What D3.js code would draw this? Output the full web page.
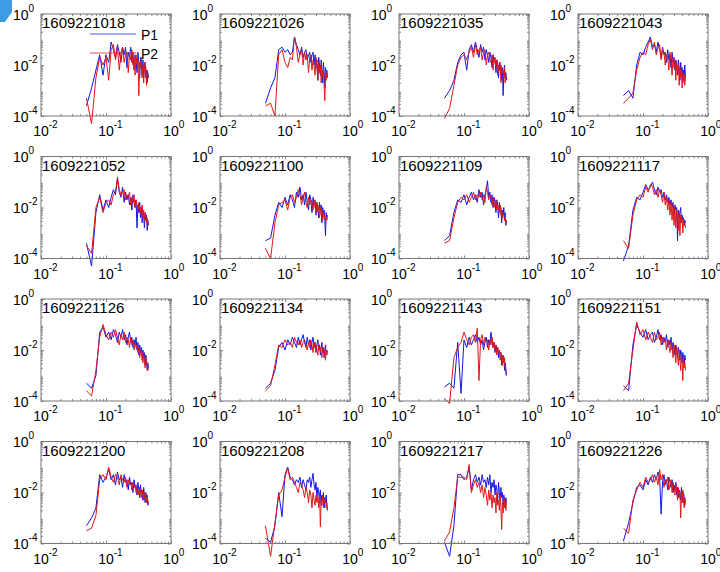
<!DOCTYPE html>
<html>
<head>
<meta charset="utf-8">
<script src="https://cdn.jsdelivr.net/npm/d3@7"></script>
<style>
  body { margin: 0; background: #fff; }
  svg { display: block; }
  text { font-family: "Liberation Sans", Arial, sans-serif; fill: #000; }
</style>
</head>
<body>
<svg id="fig" width="720" height="572"></svg>
<script>
// Frequency grid shared by every record
const freq = [0.05,0.06,0.07,0.08,0.09,0.10,0.11,0.12,0.13,0.14,0.15,0.16,0.17,0.18,0.19,0.20,
  0.21,0.22,0.23,0.24,0.25,0.26,0.27,0.28,0.29,0.30,0.31,0.32,0.33,0.34,0.35,0.36,0.37,0.38,
  0.39,0.40,0.41,0.42,0.43,0.44,0.45];

// Record names, one per subplot (row-major)
const recordNames = ["1609221018","1609221026","1609221035","1609221043",
  "1609221052","1609221100","1609221109","1609221117",
  "1609221126","1609221134","1609221143","1609221151",
  "1609221200","1609221208","1609221217","1609221226"];

// log10 spectral density, probe P1
const p1Log = [
 [-3.6,-2.9,-2.2,-1.6,-2.4,-1.6,-1.9,-1.1,-1.4,-1.7,-1.2,-1.5,-1.9,-1.3,-1.6,-1.3,-2.1,-1.5,-1.7,-1.3,-1.9,-1.5,-2.2,-1.6,-1.8,-2.3,-1.5,-1.9,-2.5,-1.7,-2.0,-2.4,-1.8,-2.5,-2.0,-1.9,-2.5,-2.2,-2.7,-2.3,-2.5],
 [-3.5,-2.9,-2.5,-1.4,-1.3,-1.5,-1.4,-1.6,-1.5,-0.9,-1.2,-1.4,-1.6,-1.3,-1.7,-1.5,-1.4,-1.8,-1.6,-1.5,-1.9,-1.6,-1.5,-2.0,-1.6,-2.1,-1.8,-2.6,-1.7,-2.0,-2.4,-1.8,-2.2,-2.7,-1.9,-2.3,-2.9,-2.1,-2.4,-2.2,-2.5],
 [-3.3,-3.0,-2.6,-1.9,-1.6,-1.5,-2.2,-1.4,-1.2,-1.5,-1.1,-1.4,-1.7,-1.2,-1.5,-1.3,-1.8,-1.4,-1.6,-1.9,-1.5,-1.7,-2.1,-1.6,-1.9,-1.7,-2.3,-1.8,-2.0,-2.5,-1.9,-2.2,-2.0,-2.6,-2.1,-3.2,-2.3,-2.0,-2.5,-2.3,-2.6],
 [-3.2,-3.0,-3.3,-2.0,-1.5,-1.6,-1.3,-1.1,-0.9,-1.3,-1.2,-1.5,-1.1,-1.4,-1.7,-1.3,-1.6,-1.5,-1.9,-1.4,-1.8,-1.6,-2.1,-1.5,-1.9,-1.7,-2.2,-1.8,-2.0,-2.4,-1.8,-2.1,-2.6,-1.9,-2.3,-2.1,-2.7,-2.2,-2.4,-2.0,-2.5],
 [-3.4,-4.3,-2.2,-1.5,-2.1,-1.7,-2.0,-1.6,-1.3,-1.5,-0.9,-1.4,-1.6,-1.2,-1.8,-1.4,-1.7,-1.5,-1.9,-1.6,-2.1,-1.5,-1.8,-2.0,-1.7,-2.8,-1.9,-2.2,-1.8,-2.4,-2.0,-2.6,-2.1,-2.3,-2.8,-2.2,-2.5,-2.3,-2.9,-2.5,-2.7],
 [-3.3,-3.2,-2.3,-1.8,-2.0,-1.6,-1.9,-1.5,-1.7,-2.0,-1.4,-1.6,-1.2,-1.7,-1.5,-1.9,-1.4,-1.8,-2.1,-1.5,-1.7,-2.2,-1.6,-1.9,-1.7,-2.3,-1.8,-2.0,-2.4,-1.8,-2.1,-1.9,-2.6,-2.0,-2.3,-2.1,-2.5,-3.1,-2.2,-2.4,-2.3],
 [-3.3,-3.1,-2.2,-1.7,-1.8,-1.5,-1.9,-1.6,-1.4,-1.7,-1.5,-1.8,-1.3,-1.6,-1.4,-1.9,-1.5,-1.3,-0.95,-1.6,-1.4,-1.8,-1.5,-2.0,-1.6,-1.8,-2.2,-1.7,-1.9,-2.4,-1.8,-2.1,-2.0,-2.6,-2.1,-2.3,-2.0,-2.5,-2.2,-2.7,-2.5],
 [-4.1,-3.5,-2.1,-1.6,-1.7,-1.4,-1.1,-1.3,-1.2,-1.0,-1.3,-1.5,-1.2,-1.4,-1.3,-1.6,-1.4,-1.7,-1.5,-1.8,-1.6,-1.9,-1.7,-2.0,-1.8,-2.3,-1.9,-2.1,-2.0,-3.3,-2.1,-2.4,-2.2,-2.0,-2.6,-2.3,-2.5,-2.4,-2.7,-2.5,-2.6],
 [-3.3,-3.5,-3.0,-1.3,-1.1,-1.5,-1.3,-1.6,-1.2,-1.4,-1.7,-1.3,-1.5,-1.2,-1.6,-1.4,-1.8,-1.5,-1.3,-1.7,-1.5,-1.9,-1.6,-1.8,-1.5,-2.0,-1.7,-2.2,-1.8,-2.1,-1.9,-2.4,-2.0,-2.3,-2.1,-2.6,-2.2,-2.4,-2.8,-2.5,-2.7],
 [-3.5,-3.3,-2.8,-1.9,-1.7,-2.0,-1.6,-1.8,-1.5,-1.7,-1.9,-1.5,-1.8,-1.6,-1.4,-1.7,-1.9,-1.5,-1.8,-1.6,-2.0,-1.7,-1.5,-1.9,-1.7,-2.1,-1.8,-1.6,-2.0,-1.8,-2.2,-1.9,-1.7,-2.1,-1.9,-2.3,-2.0,-1.8,-2.2,-2.0,-2.1],
 [-3.45,-3.3,-3.5,-1.7,-3.7,-1.6,-1.9,-1.5,-1.8,-1.6,-1.4,-1.7,-1.5,-1.8,-1.6,-2.0,-1.7,-1.5,-1.9,-1.6,-1.8,-1.3,-1.6,-1.9,-1.7,-2.1,-1.8,-2.0,-1.9,-2.3,-2.0,-2.2,-2.1,-2.6,-2.2,-2.4,-2.3,-2.8,-2.5,-2.7,-3.0],
 [-3.4,-3.6,-1.8,-1.0,-1.3,-1.5,-1.2,-1.6,-1.4,-1.3,-1.7,-1.5,-1.2,-1.6,-1.4,-1.8,-1.5,-1.7,-1.4,-1.9,-1.6,-1.8,-1.5,-2.0,-1.7,-1.9,-2.2,-1.8,-2.0,-2.3,-1.9,-2.1,-2.4,-2.0,-2.2,-2.5,-2.1,-2.3,-2.6,-2.2,-2.4],
 [-3.3,-3.0,-2.6,-1.3,-1.6,-1.4,-1.1,-1.5,-1.3,-1.7,-1.2,-1.5,-1.4,-1.8,-1.3,-1.6,-1.5,-1.9,-1.4,-1.7,-1.6,-2.0,-1.5,-1.8,-1.7,-2.1,-1.6,-1.9,-2.2,-1.7,-2.0,-1.9,-2.3,-1.8,-2.1,-2.4,-2.0,-2.2,-2.1,-2.5,-2.4],
 [-3.8,-3.95,-3.3,-2.0,-2.95,-1.3,-1.0,-1.4,-1.5,-1.7,-1.5,-1.6,-1.4,-1.8,-1.5,-1.7,-1.9,-1.5,-1.6,-1.4,-1.8,-1.5,-1.25,-1.7,-1.9,-1.6,-2.2,-1.8,-2.0,-2.4,-1.9,-2.5,-2.1,-2.3,-2.0,-2.6,-2.2,-2.4,-2.1,-2.5,-2.7],
 [-3.95,-4.5,-3.3,-1.3,-1.3,-1.5,-1.4,-1.0,-1.9,-1.5,-1.3,-1.6,-1.4,-1.7,-1.3,-1.6,-1.5,-1.8,-1.4,-1.7,-1.3,-2.0,-1.6,-1.8,-1.5,-2.1,-1.7,-1.9,-2.4,-1.6,-2.0,-2.3,-1.8,-2.2,-2.0,-2.5,-2.1,-2.3,-2.6,-2.2,-2.4],
 [-3.9,-3.2,-2.4,-1.8,-1.7,-1.9,-1.5,-1.7,-1.4,-1.6,-1.3,-1.5,-1.2,-1.4,-2.85,-1.6,-1.3,-1.7,-1.5,-1.9,-1.4,-1.6,-1.8,-1.5,-2.0,-1.7,-1.9,-1.6,-2.1,-1.8,-2.2,-1.9,-2.0,-2.3,-1.8,-2.1,-2.4,-2.0,-2.2,-2.5,-2.3]
];

// log10 spectral density, probe P2
const p2Log = [
 [-3.3,-4.3,-2.5,-1.7,-2.0,-1.7,-2.6,-1.4,-1.2,-1.8,-1.3,-2.2,-1.5,-1.3,-1.9,-1.6,-1.5,-2.3,-1.6,-1.8,-1.4,-2.0,-1.7,-2.4,-1.6,-2.0,-1.8,-3.2,-1.9,-2.1,-1.7,-2.5,-2.0,-2.7,-1.9,-2.3,-2.1,-2.8,-2.2,-2.4,-2.5],
 [-3.6,-3.5,-4.0,-1.6,-1.4,-1.9,-2.1,-1.7,-1.8,-0.9,-1.3,-1.9,-1.6,-1.4,-2.0,-1.5,-1.8,-1.6,-2.3,-1.7,-1.6,-2.2,-1.8,-2.0,-2.4,-1.7,-2.1,-2.6,-1.9,-2.3,-2.0,-2.7,-2.2,-2.5,-2.1,-2.8,-3.4,-2.2,-2.6,-2.3,-2.4],
 [-4.1,-3.7,-2.8,-2.0,-1.7,-1.6,-1.8,-1.5,-1.3,-1.7,-1.2,-1.6,-1.4,-1.3,-1.8,-1.5,-1.4,-2.0,-1.6,-1.5,-1.8,-1.9,-1.6,-2.2,-1.7,-1.9,-2.1,-1.8,-2.4,-2.0,-2.2,-1.9,-2.7,-2.1,-2.3,-2.2,-2.5,-2.1,-2.7,-2.4,-2.5],
 [-3.5,-3.3,-3.1,-2.2,-1.7,-1.5,-1.6,-1.2,-1.0,-1.4,-1.1,-1.6,-1.3,-1.2,-1.8,-1.4,-1.5,-2.0,-1.6,-1.7,-2.2,-1.5,-1.9,-2.4,-1.7,-2.1,-1.8,-2.6,-1.9,-2.3,-2.0,-2.8,-2.1,-2.5,-2.2,-2.9,-2.3,-2.6,-2.4,-2.8,-2.5],
 [-3.5,-3.8,-2.0,-1.6,-2.2,-1.8,-1.7,-1.9,-1.5,-1.4,-0.8,-1.3,-1.5,-1.4,-1.3,-1.7,-1.5,-1.6,-1.4,-1.9,-1.6,-1.8,-1.5,-2.0,-1.7,-1.9,-2.1,-1.8,-2.2,-2.0,-2.3,-1.9,-2.4,-2.1,-2.5,-2.2,-2.3,-2.6,-2.4,-2.7,-2.6],
 [-3.6,-4.0,-2.6,-1.9,-1.8,-1.7,-2.1,-1.6,-1.5,-1.8,-1.6,-1.3,-1.5,-1.9,-1.6,-1.4,-1.8,-2.0,-1.6,-1.9,-1.7,-1.8,-2.1,-1.7,-2.0,-1.8,-2.2,-1.9,-2.1,-2.4,-2.0,-2.3,-2.1,-2.5,-2.2,-2.4,-2.3,-2.6,-2.4,-2.5,-2.4],
 [-3.4,-3.3,-2.4,-1.8,-1.6,-1.7,-1.5,-1.8,-1.6,-1.4,-1.7,-1.5,-1.6,-1.4,-1.7,-1.5,-1.8,-1.2,-1.4,-1.7,-1.5,-1.6,-1.9,-1.6,-1.8,-2.0,-1.7,-2.1,-1.9,-2.0,-2.2,-1.9,-2.3,-2.1,-2.4,-2.2,-2.3,-2.5,-2.4,-2.6,-2.5],
 [-3.3,-3.6,-2.3,-1.7,-1.5,-1.6,-1.2,-1.4,-1.1,-1.2,-1.5,-1.3,-1.6,-1.3,-1.5,-1.8,-1.4,-1.9,-1.6,-2.1,-1.7,-2.3,-1.8,-2.5,-1.9,-2.7,-2.0,-2.8,-2.1,-2.4,-2.9,-2.2,-3.1,-2.3,-2.6,-2.4,-3.0,-2.5,-2.7,-2.6,-2.8],
 [-3.6,-3.8,-2.8,-1.5,-1.0,-1.4,-1.6,-1.3,-1.5,-1.2,-1.5,-1.8,-1.4,-1.6,-1.3,-1.7,-1.5,-1.6,-1.9,-1.5,-1.8,-1.6,-2.0,-1.7,-1.9,-1.8,-2.1,-1.9,-2.3,-2.0,-2.2,-2.1,-2.5,-2.2,-2.4,-2.7,-2.3,-2.6,-2.5,-2.8,-2.7],
 [-3.6,-3.4,-2.6,-1.8,-1.9,-1.6,-1.8,-1.7,-1.9,-1.5,-1.7,-1.8,-1.6,-1.9,-1.7,-1.6,-1.8,-2.0,-1.7,-1.9,-1.6,-1.8,-2.1,-1.7,-1.9,-1.8,-2.0,-2.2,-1.8,-2.0,-1.9,-2.1,-2.3,-1.9,-2.1,-2.0,-2.2,-2.4,-2.0,-2.2,-2.1],
 [-3.9,-4.1,-2.3,-1.9,-1.7,-1.3,-1.6,-1.8,-1.5,-1.4,-1.7,-1.15,-3.2,-1.6,-1.4,-1.8,-1.5,-1.7,-1.6,-2.0,-1.6,-1.8,-1.5,-1.9,-1.7,-2.0,-1.8,-2.2,-1.9,-2.1,-2.0,-2.4,-2.1,-2.3,-2.6,-2.2,-2.5,-2.3,-2.7,-2.9,-3.0],
 [-3.6,-3.3,-2.0,-0.9,-1.4,-1.2,-1.6,-1.3,-1.5,-1.7,-1.3,-1.6,-1.5,-1.3,-1.8,-1.5,-1.7,-1.6,-2.0,-1.6,-1.8,-2.1,-1.7,-1.9,-2.3,-1.8,-2.1,-2.5,-1.9,-2.2,-2.6,-2.0,-2.4,-2.8,-2.1,-2.5,-3.2,-2.3,-2.7,-2.5,-2.8],
 [-3.5,-3.4,-2.9,-1.5,-1.3,-1.5,-1.0,-1.4,-1.6,-1.3,-1.4,-1.7,-1.3,-1.5,-1.6,-1.4,-1.8,-1.5,-1.7,-1.6,-1.9,-1.6,-1.8,-1.7,-2.0,-1.8,-1.9,-2.1,-1.8,-2.0,-2.2,-1.9,-2.1,-2.3,-2.0,-2.2,-2.1,-2.4,-2.2,-2.3,-2.4],
 [-3.3,-4.5,-3.2,-2.1,-1.9,-1.4,-1.05,-1.5,-1.4,-1.6,-1.8,-2.0,-1.6,-1.7,-1.9,-2.2,-1.8,-2.0,-2.4,-1.9,-2.1,-2.6,-2.0,-2.3,-2.5,-2.1,-2.4,-2.2,-2.6,-2.0,-3.35,-2.3,-2.5,-2.1,-2.6,-2.3,-2.4,-2.2,-2.6,-2.4,-2.7],
 [-3.9,-3.55,-2.6,-1.4,-1.4,-1.4,-1.5,-0.9,-2.0,-1.7,-1.5,-1.8,-1.6,-2.0,-1.7,-2.2,-1.8,-2.1,-2.5,-1.9,-2.3,-2.0,-2.6,-2.1,-2.4,-2.2,-2.8,-2.0,-2.5,-2.3,-2.7,-2.1,-2.6,-3.45,-2.4,-2.8,-2.2,-2.6,-2.3,-2.7,-2.4],
 [-3.4,-3.6,-2.3,-1.9,-1.6,-1.8,-1.4,-1.6,-1.5,-1.3,-1.6,-1.4,-1.7,-1.1,-1.5,-1.3,-1.8,-1.5,-1.6,-1.4,-1.9,-1.7,-1.5,-2.0,-1.6,-1.8,-2.1,-1.7,-1.9,-2.3,-1.8,-2.2,-2.0,-3.0,-2.1,-2.4,-1.9,-2.3,-2.6,-2.2,-2.3]
];

const seriesNames = ["P1", "P2"];
const seriesColors = ["#1616e0", "#e01818"];
const xTickValues = [0.01, 0.1, 1];
const yTickValues = [1e-4, 1e-2, 1];
const xTickExps = ["-2", "-1", "0"];
const yTickExps = ["-4", "-2", "0"];

const svg = d3.select("#fig");

// Window-corner tab
svg.append("path")
  .attr("d", "M0,0 L12,0 L12,12 L5,22 L0,22 Z")
  .attr("fill", "#3c9de6");

const nCols = 4;
const panelW = 130, panelH = 102;
const colLeft = c => 41 + 179 * c;
const rowTop = r => 14 + 142.5 * r;

const minorX = [];
[0.01, 0.1].forEach(dec => { for (let k = 2; k <= 9; k++) minorX.push(dec * k); });
const minorY = [];
[1e-4, 1e-3, 1e-2, 1e-1].forEach(dec => { for (let k = 2; k <= 9; k++) minorY.push(dec * k); });

recordNames.forEach((name, i) => {
  const c = i % nCols, r = Math.floor(i / nCols);
  const L = colLeft(c), T = rowTop(r);
  const g = svg.append("g").attr("transform", `translate(${L},${T})`);

  const x = d3.scaleLog().domain([0.01, 1]).range([0, panelW]);
  const y = d3.scaleLog().domain([1e-4, 1]).range([panelH, 0]);

  // inward ticks on all four sides
  const tickStyle = sel => {
    sel.select(".domain").remove();
    sel.selectAll("line").attr("stroke", "#8a8a8a").attr("stroke-width", 1);
  };
  g.append("g").attr("transform", `translate(0,${panelH})`)
    .call(d3.axisBottom(x).tickValues(minorX).tickSize(-2).tickFormat("")).call(tickStyle);
  g.append("g")
    .call(d3.axisTop(x).tickValues(minorX).tickSize(-2).tickFormat("")).call(tickStyle);
  g.append("g").attr("transform", `translate(0,${panelH})`)
    .call(d3.axisBottom(x).tickValues(xTickValues).tickSize(-3).tickFormat("")).call(tickStyle);
  g.append("g")
    .call(d3.axisTop(x).tickValues(xTickValues).tickSize(-3).tickFormat("")).call(tickStyle);
  g.append("g")
    .call(d3.axisLeft(y).tickValues(minorY).tickSize(-2).tickFormat("")).call(tickStyle);
  g.append("g").attr("transform", `translate(${panelW},0)`)
    .call(d3.axisRight(y).tickValues(minorY).tickSize(-2).tickFormat("")).call(tickStyle);
  g.append("g")
    .call(d3.axisLeft(y).tickValues(yTickValues).tickSize(-3).tickFormat("")).call(tickStyle);
  g.append("g").attr("transform", `translate(${panelW},0)`)
    .call(d3.axisRight(y).tickValues(yTickValues).tickSize(-3).tickFormat("")).call(tickStyle);

  // spectra
  const line = d3.line()
    .x((d, k) => x(freq[k]))
    .y(d => y(Math.pow(10, d)));
  [p1Log[i], p2Log[i]].forEach((vals, s) => {
    g.append("path")
      .attr("d", line(vals))
      .attr("fill", "none")
      .attr("stroke", seriesColors[s])
      .attr("stroke-width", 1)
      .attr("stroke-linejoin", "round");
  });

  // frame
  g.append("rect")
    .attr("width", panelW).attr("height", panelH)
    .attr("fill", "none").attr("stroke", "#777").attr("stroke-width", 1);

  // x tick labels 10^n
  xTickValues.forEach((v, k) => {
    const t = g.append("text")
      .attr("x", x(v) - 7.8).attr("y", panelH + 20)
      .style("font-size", "14px");
    t.append("tspan").text("10");
    t.append("tspan").attr("dy", -8).style("font-size", "10px").text(xTickExps[k]);
  });
  // y tick labels 10^n
  yTickValues.forEach((v, k) => {
    const t = g.append("text")
      .attr("x", -28).attr("y", y(v) + 5.5)
      .style("font-size", "14px");
    t.append("tspan").text("10");
    t.append("tspan").attr("dy", -8).style("font-size", "10px").text(yTickExps[k]);
  });

  // record name
  g.append("text")
    .attr("x", 1).attr("y", 14)
    .style("font-size", "15px")
    .text(name);

  // legend on the first subplot
  if (i === 0) {
    seriesNames.forEach((s, k) => {
      const ly = 20 + 19 * k;
      g.append("line")
        .attr("x1", 49).attr("x2", 95).attr("y1", ly).attr("y2", ly)
        .attr("stroke", seriesColors[k])
        .attr("stroke-width", 1).attr("opacity", 0.75);
      g.append("text")
        .attr("x", 100).attr("y", ly + 5.5)
        .style("font-size", "14px")
        .text(s);
    });
  }
});
</script>
</body>
</html>
